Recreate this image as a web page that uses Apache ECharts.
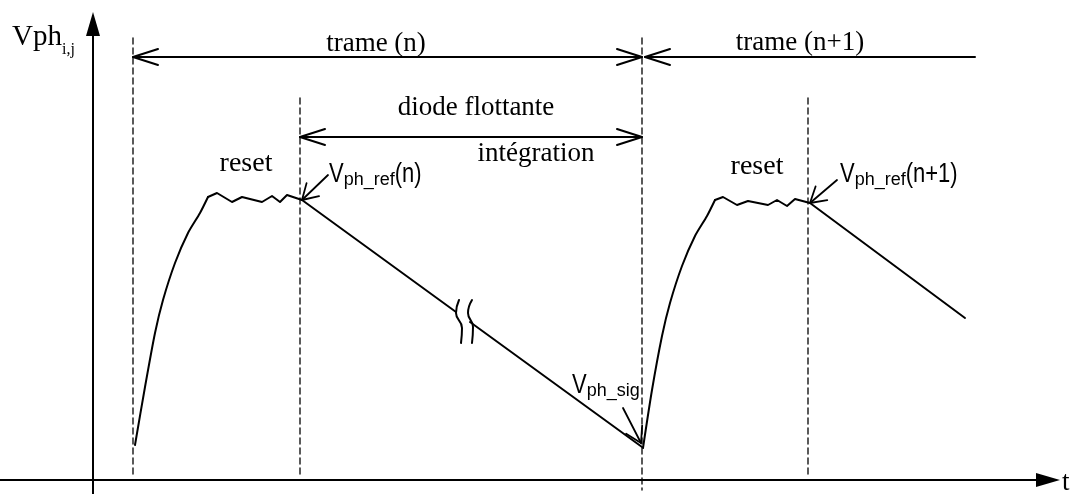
<!DOCTYPE html>
<html>
<head>
<meta charset="utf-8">
<script src="https://cdn.jsdelivr.net/npm/echarts@6/dist/echarts.min.js"></script>
<style>
html, body { margin: 0; padding: 0; background: #fff; }
#chart { width: 1070px; height: 494px; }
</style>
</head>
<body>
<div id="chart"></div>
<script>
// repere : t = temps depuis l'axe vertical, v = tension au-dessus de l'axe t
// trame (n)
const rise1 = [[42,35],[52,93],[62,147],[70,180],[82,217],[95,247],[107,267],[115,283]];
const reset1 = [[115,283],[124,287],[139,278],[149,283],[169,278],[179,284],[187,278],[194,285],[209,280]];
const integ1a = [[209,280],[363,168]];
const integ1b = [[377,158],[549,33]];
// trame (n+1)
const rise2 = [[550,32],[559,90],[569,144],[577,177],[589,214],[602,244],[614,264],[622,280]];
const reset2 = [[622,280],[630,283],[644,275],[655,279],[675,275],[684,280],[694,274],[702,281],[717,277]];
const integ2 = [[717,277],[872,162]];
// coupure (rupture d'echelle)
const break1 = [[366,180],[363,167],[369,152],[368,137]];
const break2 = [[379,180],[375,167],[380,153],[379,137]];
// reperes verticaux en pointilles [t, vHaut, vBas]
const markers = [[40,442,5],[207,382,5],[549,442,-10],[715,382,5]];
// cotes horizontales [t1, t2, v, flecheGauche, flecheDroite]
const spans = [[40,549,423,1,1],[552,882,423,1,0],[207,549,343,1,1]];
// fleches d'annotation [depart, pointe]
const pointers = [[[235,305],[209,280]],[[744,300],[717,277]],[[530,72],[548,37]]];

const chart = echarts.init(document.getElementById('chart'));

function path(data, opts) {
  opts = opts || {};
  return {
    type: 'line',
    data: data,
    symbol: 'none',
    smooth: opts.smooth || false,
    silent: true,
    animation: false,
    lineStyle: { color: '#000', width: opts.width || 2, type: opts.dash || 'solid', cap: 'round', join: 'round' },
    z: opts.z || 2
  };
}

function chevron(tip, from, len, half) {
  let dx = from[0] - tip[0], dy = from[1] - tip[1];
  const d = Math.sqrt(dx * dx + dy * dy);
  dx /= d; dy /= d;
  return [
    [tip[0] + dx * len - dy * half, tip[1] + dy * len + dx * half],
    tip,
    [tip[0] + dx * len + dy * half, tip[1] + dy * len - dx * half]
  ];
}

const series = [];
[rise1, rise2].forEach(r => series.push(path(r, { smooth: 0.25 })));
[reset1, reset2, integ1a, integ1b, integ2].forEach(r => series.push(path(r)));
[break1, break2].forEach(r => series.push(path(r, { smooth: 0.5 })));
markers.forEach(m => series.push(path([[m[0], m[1]], [m[0], m[2]]], { width: 1.3, dash: [6, 4], z: 1 })));
spans.forEach(s => {
  const a = [s[0], s[2]], b = [s[1], s[2]];
  series.push(path([a, b]));
  if (s[3]) series.push(path(chevron(a, b, 25, 8)));
  if (s[4]) series.push(path(chevron(b, a, 25, 8)));
});
pointers.forEach(p => {
  series.push(path([p[0], p[1]], { width: 1.8 }));
  series.push(path(chevron(p[1], p[0], 15, 9), { width: 1.8 }));
});

const serif = '"Liberation Serif", "Times New Roman", serif';
const sans = '"Liberation Sans", Arial, sans-serif';

const ctx = document.createElement('canvas').getContext('2d');
function textWidth(str, size, family) {
  ctx.font = size + 'px ' + family;
  return ctx.measureText(str).width;
}

// texte positionne sur sa ligne de base
function txt(x, base, str, family, size, align, sy) {
  return {
    type: 'text', x: x, y: base, scaleY: sy || 1, silent: true,
    style: {
      text: str, x: 0, y: -0.33 * size, fill: '#000',
      fontFamily: family, fontSize: size,
      align: align || 'center', verticalAlign: 'middle'
    }
  };
}

// texte avec indices : parts = [texte, taille, decalage, echelleY]
function subLabel(x, base, parts, family) {
  let cx = x;
  return parts.map(p => {
    const el = txt(cx, base + p[2], p[0], family, p[1], 'left', p[3]);
    cx += textWidth(p[0], p[1], family);
    return el;
  });
}

chart.setOption({
  backgroundColor: '#fff',
  animation: false,
  grid: { left: 0, right: 22, top: 24, bottom: 0 },
  xAxis: {
    type: 'value', min: -93, max: 955,
    axisLine: { show: true, onZero: true, symbol: ['none', 'triangle'], symbolSize: [14, 24], lineStyle: { color: '#000', width: 2 } },
    axisTick: { show: false }, axisLabel: { show: false }, splitLine: { show: false }
  },
  yAxis: {
    type: 'value', min: -14, max: 456,
    axisLine: { show: true, onZero: true, symbol: ['none', 'triangle'], symbolSize: [14, 24], lineStyle: { color: '#000', width: 2 } },
    axisTick: { show: false }, axisLabel: { show: false }, splitLine: { show: false }
  },
  graphic: [].concat(
    subLabel(12, 47, [['Vph', 29, 0], ['i,j', 16, 8]], serif),
    [
      txt(376, 53, 'trame (n)', serif, 27),
      txt(800, 52, 'trame (n+1)', serif, 27),
      txt(476, 117, 'diode flottante', serif, 27),
      txt(536, 163, 'intégration', serif, 27),
      txt(246, 173, 'reset', serif, 28),
      txt(757, 176, 'reset', serif, 28),
      txt(1062, 492, 't', serif, 27, 'left')
    ],
    subLabel(329, 183, [['V', 22, 0, 1.22], ['ph_ref', 18, 3], ['(n)', 22, 0, 1.22]], sans),
    subLabel(840, 183, [['V', 22, 0, 1.22], ['ph_ref', 18, 3], ['(n+1)', 22, 0, 1.22]], sans),
    subLabel(572, 394, [['V', 22, 0, 1.22], ['ph_sig', 18, 3]], sans)
  ),
  series: series
});
</script>
</body>
</html>
